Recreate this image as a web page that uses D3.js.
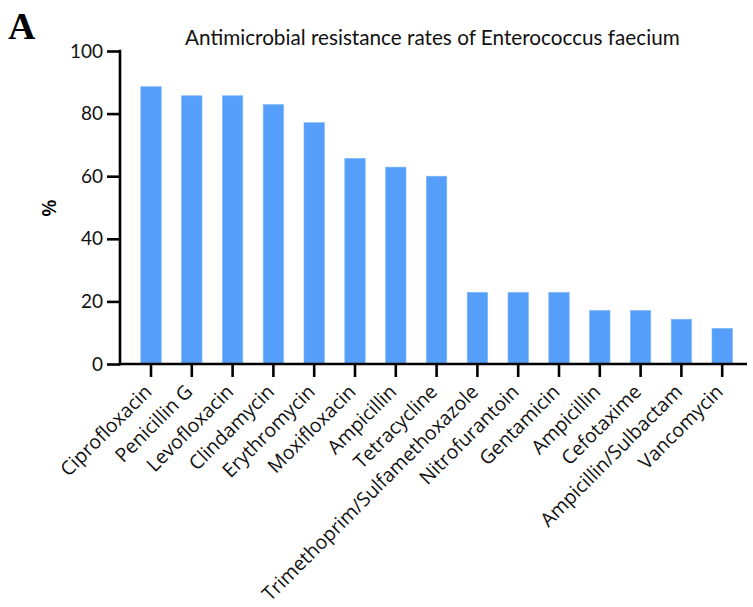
<!DOCTYPE html>
<html><head><meta charset="utf-8">
<script src="https://cdn.jsdelivr.net/npm/d3@7"></script>
<style>body{margin:0;background:#fff}</style>
</head><body>
<svg id="c" width="753" height="607"></svg>
<script>
const categories = ["Ciprofloxacin","Penicillin G","Levofloxacin","Clindamycin","Erythromycin","Moxifloxacin","Ampicillin","Tetracycline","Trimethoprim/Sulfamethoxazole","Nitrofurantoin","Gentamicin","Ampicillin ","Cefotaxime","Ampicillin/Sulbactam","Vancomycin"];
const values = [88.6,85.7,85.7,82.9,77.1,65.7,62.9,60.0,22.9,22.9,22.9,17.1,17.1,14.3,11.4];
const yTicks = [0,20,40,60,80,100];
const title = "Antimicrobial resistance rates of Enterococcus faecium";

const svg = d3.select("#c");
const x = d3.scaleBand().domain(categories).range([130.6,742.6]).paddingInner(0.5).paddingOuter(0.25);
const y = d3.scaleLinear().domain([0,100]).range([364,51]);

svg.append("g").selectAll("rect").data(values).join("rect")
  .attr("x",(d,i)=>x(categories[i])).attr("width",x.bandwidth())
  .attr("y",d=>y(d)).attr("height",d=>y(0)-y(d))
  .attr("fill","#559ffa").attr("stroke","#7fb6f7").attr("stroke-width",0.6);

// y axis
const ya = svg.append("g").attr("transform","translate(120,0)")
  .call(d3.axisLeft(y).tickValues(yTicks).tickSize(13).tickPadding(4).tickSizeOuter(0));
ya.select(".domain").attr("stroke","#000").attr("stroke-width",2.6).attr("d","M0,"+(y(100)-1.3)+"V"+(y(0)+1.3));
ya.selectAll(".tick line").attr("stroke","#000").attr("stroke-width",2.6);
ya.selectAll(".tick text").attr("font-family","Lato, 'Open Sans', sans-serif").attr("font-size",19).attr("fill","#111");

// x axis
const xa = svg.append("g").attr("transform","translate(0,364)")
  .call(d3.axisBottom(x).tickSize(13).tickSizeOuter(0));
xa.select(".domain").attr("stroke","#000").attr("stroke-width",2.6).attr("d","M118.7,0H747");
xa.selectAll(".tick line").attr("stroke","#000").attr("stroke-width",2.6);
xa.selectAll(".tick text")
  .attr("font-family","'Open Sans', sans-serif").attr("font-size",19.5).attr("fill","#111")
  .attr("text-anchor","end").attr("dy",0).attr("y",0)
  .attr("transform","translate(2,29) rotate(-45)");

// y label
svg.append("text").attr("transform","translate(56,208) rotate(-90)")
  .attr("text-anchor","middle").attr("font-family","'Open Sans', sans-serif")
  .attr("font-size",20).attr("font-weight","600").text("%");

// title
const t = svg.append("text").attr("x",185).attr("y",45)
  .attr("font-family","Lato, 'Open Sans', sans-serif").attr("font-size",19).attr("fill","#111").text(title);
const w = t.node().getComputedTextLength();
t.attr("font-size", 19*495/w);

// panel letter
svg.append("text").attr("x",8).attr("y",39).attr("font-family","'Liberation Serif', 'DejaVu Serif', serif")
  .attr("font-weight","bold").attr("font-size",38).text("A");
</script>
</body></html>
